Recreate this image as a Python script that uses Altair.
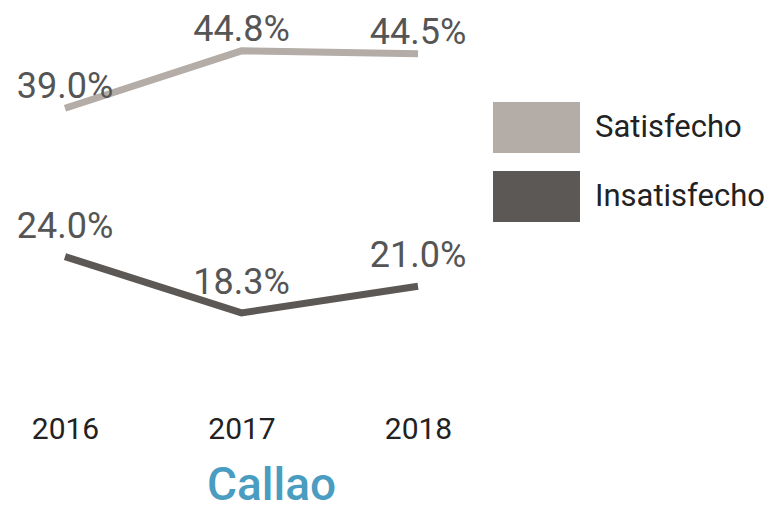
import altair as alt
import pandas as pd

years = ["2016", "2017", "2018"]
satisfecho = [39.0, 44.8, 44.5]
insatisfecho = [24.0, 18.3, 21.0]
series = ["Satisfecho", "Insatisfecho"]
colors = ["#b3aca7", "#5b5855"]

rows = []
for name, vals in zip(series, [satisfecho, insatisfecho]):
    for y, v in zip(years, vals):
        rows.append({"anio": y, "serie": name, "valor": v})
df = pd.DataFrame(rows)

x = alt.X("anio:O", scale=alt.Scale(type="point", range=[57, 410], padding=0),
          axis=alt.Axis(title=None, labelAngle=0, domain=False, ticks=False, grid=False,
                        labelFontSize=30, labelColor="#222222", labelFont="Roboto",
                        labelPadding=6))
y = alt.Y("valor:Q", scale=alt.Scale(domain=[10, 46], range=[387, 31], nice=False, zero=False),
          axis=None)
legend = alt.Legend(title=None, orient="none", legendX=485, legendY=76,
                    symbolType="M-1,-0.586H1V0.586H-1Z", symbolSize=7569,
                    symbolStrokeWidth=0, symbolOpacity=1,
                    labelFontSize=31, labelFont="Roboto", labelColor="#222222",
                    labelOffset=15, rowPadding=-11, padding=0, labelLimit=300)
color = alt.Color("serie:N", scale=alt.Scale(domain=series, range=colors), legend=legend)

base = alt.Chart(df).encode(x=x, y=y)
lines = base.mark_line(strokeWidth=7).encode(color=color)
legend_src = base.mark_point(filled=True, shape="square").encode(color=color).transform_filter("false")
fmt = "format(datum.valor, '.1f') + '%'"
labels_top = base.mark_text(dy=-21, fontSize=36, font="Roboto", color="#555555").encode(
    text="label:N").transform_filter("datum.serie == 'Satisfecho'").transform_calculate(label=fmt)
labels_bot = base.mark_text(dy=-30, fontSize=36, font="Roboto", color="#555555").encode(
    text="label:N").transform_filter("datum.serie == 'Insatisfecho'").transform_calculate(label=fmt)

chart = (lines + legend_src + labels_top + labels_bot).properties(
    width=467, height=400,
    title=alt.TitleParams(text="Callao", orient="bottom", anchor="middle", dx=30, offset=20,
                          fontSize=46, font="Roboto", fontWeight=500, color="#4a9cc0"),
    padding={"left": 0, "top": 0, "right": 292, "bottom": 102},
    autosize=alt.AutoSizeParams(type="none"),
).configure_view(stroke=None)

chart.save("out.html", embed_options={"renderer": "svg", "actions": False})
